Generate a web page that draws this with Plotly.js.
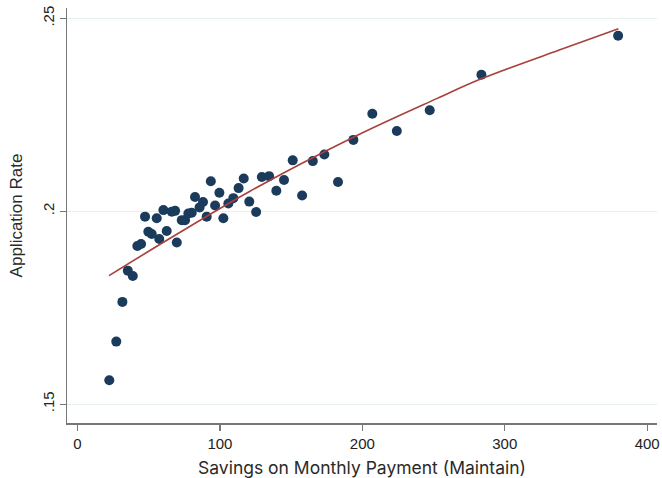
<!DOCTYPE html>
<html>
<head>
<meta charset="utf-8">
<script src="https://cdn.plot.ly/plotly-3.0.1.min.js"></script>
<style>html,body{margin:0;padding:0;background:#fff;}#chart{width:662px;height:478px;}</style>
</head>
<body>
<div id="chart"></div>
<script>
// Savings on monthly payment (x) and application rate (y)
var savings = [22.3, 27.2, 31.5, 35.3, 38.8, 42.0, 44.6, 47.4, 49.7, 52.1,
  55.6, 57.4, 60.3, 62.6, 66.2, 68.5, 69.7, 73.2, 75.5, 77.8,
  80.2, 82.5, 85.7, 88.1, 90.7, 93.6, 96.6, 99.6, 102.4, 105.9,
  109.4, 113.1, 116.7, 120.6, 125.4, 129.4, 134.5, 139.6, 145.0, 151.1,
  157.7, 165.2, 173.3, 182.9, 193.7, 207.0, 224.2, 247.3, 283.6, 379.6];
var appRate = [0.1562, 0.1662, 0.1765, 0.1846, 0.1832, 0.1910, 0.1915, 0.1986, 0.1947, 0.1941,
  0.1982, 0.1928, 0.2003, 0.1949, 0.1999, 0.2001, 0.1919, 0.1977, 0.1977, 0.1994,
  0.1996, 0.2037, 0.2010, 0.2024, 0.1986, 0.2078, 0.2015, 0.2048, 0.1982, 0.2020,
  0.2034, 0.2060, 0.2085, 0.2025, 0.1998, 0.2089, 0.2091, 0.2053, 0.2081, 0.2132,
  0.2041, 0.2130, 0.2147, 0.2076, 0.2185, 0.2253, 0.2208, 0.2262, 0.2354, 0.2455];
// Fitted curve, points
var fitSavings = [22.1, 65.0, 121.1, 193.7, 252.2, 283.9, 341.2, 379.8];
var fitRate    = [0.1833, 0.1930, 0.2052, 0.2192, 0.2292, 0.2344, 0.2422, 0.2473];
var yTickVals = [0.15, 0.2, 0.25];
var yTickText = ['.15', '.2', '.25'];
var xTickVals = [0, 100, 200, 300, 400];

var traces = [
  {x: savings, y: appRate, type: 'scatter', mode: 'markers',
   marker: {color: '#1b3b5c', size: 10, line: {width: 0}}, showlegend: false, hoverinfo: 'skip'},
  {x: fitSavings, y: fitRate, type: 'scatter', mode: 'lines',
   line: {color: '#a8403c', width: 1.6, shape: 'spline', smoothing: 1}, showlegend: false, hoverinfo: 'skip'}
];

var layout = {
  width: 662, height: 478,
  margin: {l: 67, r: 5, t: 8, b: 55},
  paper_bgcolor: '#ffffff', plot_bgcolor: '#ffffff',
  font: {family: 'Liberation Sans, Arial, sans-serif', color: '#222'},
  xaxis: {
    range: [-7.4, 406.9], tickvals: xTickVals, ticks: 'outside', ticklen: 6, tickwidth: 1.2, tickcolor: '#777',
    showline: true, linecolor: '#777', linewidth: 1.5, showgrid: false, zeroline: false,
    tickfont: {size: 15, family: 'Liberation Sans, Arial, sans-serif', color: '#222'},
    title: {text: 'Savings on Monthly Payment (Maintain)', font: {size: 17.5, family: 'Inter, sans-serif', color: '#2a2a2a'}, standoff: 12}
  },
  yaxis: {
    range: [0.1451, 0.2527], tickvals: yTickVals, ticktext: yTickText, tickangle: -90,
    ticks: 'outside', ticklen: 6, tickwidth: 1.2, tickcolor: '#777',
    showline: true, linecolor: '#777', linewidth: 1.5, showgrid: true, gridcolor: '#e6eff0', gridwidth: 1, zeroline: false,
    tickfont: {size: 15, family: 'Liberation Sans, Arial, sans-serif', color: '#222'},
    title: {text: 'Application Rate', font: {size: 17, family: 'Liberation Sans, Arial, sans-serif', color: '#2a2a2a'}, standoff: 12}
  }
};

Plotly.newPlot('chart', traces, layout, {staticPlot: true, displayModeBar: false});
</script>
</body>
</html>
